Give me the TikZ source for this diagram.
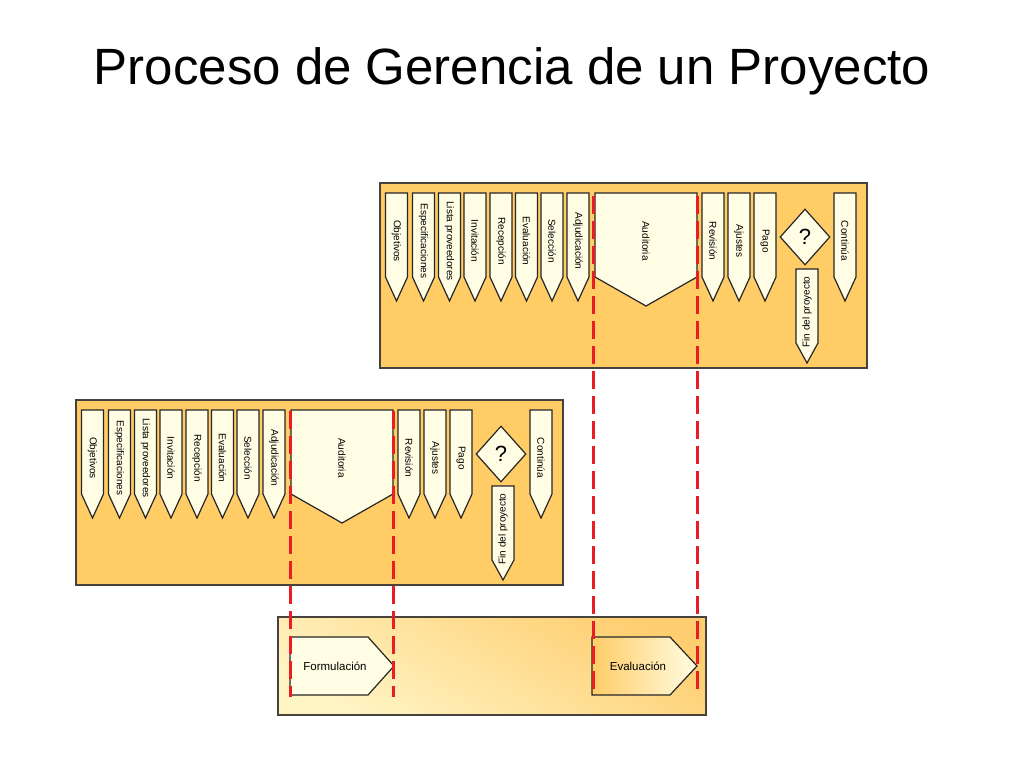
\documentclass[tikz,border=0pt]{standalone}
\usepackage{fontspec}
\setmainfont{Liberation Sans}
\usepackage{xcolor}
\usepackage{tikz}
\usetikzlibrary{shapes.geometric,calc,positioning}
\definecolor{oro}{RGB}{255,204,102}
\definecolor{crema}{RGB}{255,253,228}
\definecolor{borde}{RGB}{72,66,60}
\definecolor{guia}{RGB}{232,30,36}
\definecolor{orolight}{RGB}{255,244,196}
\definecolor{orodark}{RGB}{255,206,112}
% tag pointing down: [label opts]{name}{x}{y}{width}{length}{tip}{text}
\newcommand{\etiqueta}[8][rotate=-90]{%
  \draw[tag] (#3,#4) -- ++(#5,0) -- ++(0,#6) -- ++(-#5/2,#7) -- ++(-#5/2,-#7) -- cycle;
  \node[taglabel, #1] (#2) at (#3+#5/2,#4+#6/2+6) {#8};}

\begin{document}
\begin{tikzpicture}[
  x=1pt, y=-1pt,
  panel/.style={draw=borde, line width=1.3pt, fill=oro},
  tag/.style={draw=black!85, line width=1.2pt, fill=crema},
  taglabel/.style={font=\fontsize{10}{12}\selectfont, inner sep=0pt},
  pregunta/.style={diamond, draw=black!85, line width=1.2pt, fill=crema, minimum width=50pt, minimum height=56pt, inner sep=0pt, font=\fontsize{22}{24}\selectfont},
  stage/.style={draw=black!85, line width=1.2pt},
  stagelabel/.style={font=\fontsize{11.5}{13}\selectfont, inner sep=0pt},
  guide/.style={draw=guia, line width=3pt, dash pattern=on 18pt off 7pt}
]
\useasboundingbox (0,0) rectangle (1024,768);

% Title
\node[anchor=base, font=\fontsize{51}{60}\selectfont] (titulo) at (512,84) {Proceso de Gerencia de un Proyecto};

% Process panels (upper and lower copy)
\foreach \p/\dx/\dy in {arriba/380/183, abajo/76/400}{
  \begin{scope}[shift={(\dx,\dy)}]
    \draw[panel] (0,0) rectangle (487,185);
    \foreach \x/\n/\txt in {5.5/obj/Objetivos, 32.5/esp/Especificaciones, 58.5/lista/Lista proveedores, 84/inv/Invitación, 110/rec/Recepción, 135.5/eva/Evaluación, 161/sel/Selección, 187/adj/Adjudicación}
      \etiqueta{\p-\n}{\x}{10}{22}{84}{24}{\txt};
    \etiqueta{\p-aud}{215}{10}{102}{84}{29}{Auditoria};
    \foreach \x/\n/\txt in {322/rev/Revisión, 348/aju/Ajustes, 374/pago/Pago, 454/cont/Continúa}
      \etiqueta{\p-\n}{\x}{10}{22}{84}{24}{\txt};
    \node[pregunta] (\p-q) at (425,54) {?};
    \etiqueta[rotate=90]{\p-fin}{416}{86}{22}{74}{20}{Fin del proyecto};
  \end{scope}
}

% Stages panel
\shade[draw=borde, line width=1.3pt, top color=orodark, bottom color=orolight, shading angle=-30] (278,617) rectangle (706,715);
\draw[stage, fill=crema] (290,637) -- (368,637) -- (394,666) -- (368,695) -- (290,695) -- cycle;
\node[stagelabel] (formulacion) at (335,666) {Formulación};
\draw[stage, left color=oro, right color=crema] (592,637) -- (670,637) -- (697,666) -- (670,695) -- (592,695) -- cycle;
\node[stagelabel] (evaluacion) at (638,666) {Evaluación};

% Guides
\coordinate (g1a) at (593,196);
\coordinate (g1b) at (593,695);
\coordinate (g2a) at (697,196);
\coordinate (g2b) at (697,695);
\coordinate (g3a) at (290,411);
\coordinate (g3b) at (290,697);
\coordinate (g4a) at (393,411);
\coordinate (g4b) at (393,697);
\draw[guide] (g1a) -- (g1b);
\draw[guide] (g2a) -- (g2b);
\draw[guide] (g3a) -- (g3b);
\draw[guide] (g4a) -- (g4b);

\end{tikzpicture}
\end{document}
